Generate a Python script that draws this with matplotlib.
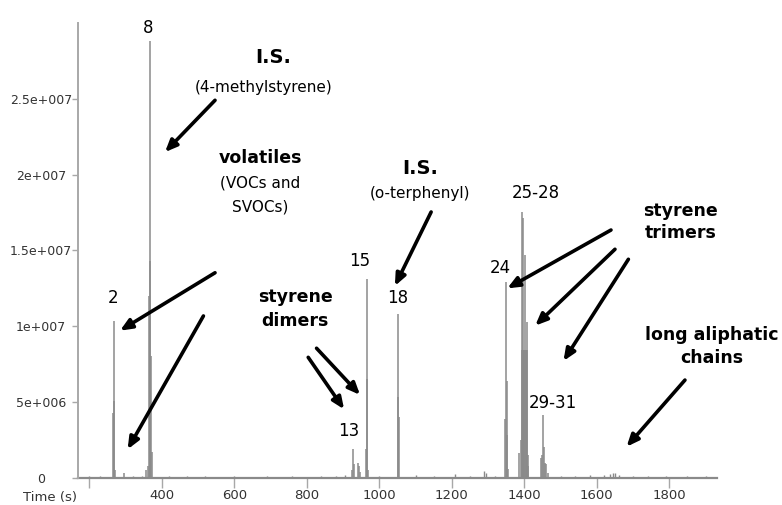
import matplotlib.pyplot as plt

plt.rcParams['font.family'] = ['DejaVu Sans']

# chromatogram, retention time (s) and intensity of each spike
run_start, run_end = 170, 1932
peak_times = [266.5, 267.6, 269.0, 270.2,
              296, 357, 362, 366.0, 367.7, 369.0, 370.5, 373.0,
              925, 928, 931, 942, 945, 948,
              963, 965, 966.5, 968,
              1051, 1052.6, 1054.2,
              1346, 1349.5, 1351.5, 1353, 1355,
              1386, 1390, 1392.8, 1394.2, 1395.6, 1397.2, 1398.6, 1400, 1401.9,
              1403.3, 1404.8, 1406.2, 1408.3, 1409.6, 1411,
              1446, 1448, 1450.7, 1453, 1456, 1460, 1464]
peak_heights = [4.3e6, 10.35e6, 5.05e6, 0.5e6,
                0.3e6, 0.5e6, 0.8e6, 12.0e6, 28.8e6, 14.3e6, 8.0e6, 1.7e6,
                0.5e6, 1.9e6, 0.9e6, 0.97e6, 0.8e6, 0.4e6,
                1.9e6, 13.1e6, 6.5e6, 0.5e6,
                5.35e6, 10.8e6, 4.0e6,
                3.9e6, 12.9e6, 6.4e6, 2.8e6, 0.6e6,
                1.6e6, 2.5e6, 17.55e6, 8.4e6, 8.4e6, 17.1e6, 8.4e6, 8.4e6, 14.7e6,
                8.4e6, 8.4e6, 8.4e6, 10.3e6, 1.5e6, 0.8e6,
                1.3e6, 1.5e6, 4.15e6, 2.0e6, 1.0e6, 0.9e6, 0.3e6]

# small blips along the baseline
blip_times = [200, 230, 320, 345, 420, 470, 520, 600, 690, 760, 840, 880, 905,
              1000, 1100, 1150, 1210, 1250, 1290, 1293, 1320, 1500, 1540, 1580,
              1620, 1635, 1645, 1650, 1660, 1700, 1740, 1790, 1850, 1900]
blip_heights = [0.1e6, 0.08e6, 0.1e6, 0.12e6, 0.08e6, 0.1e6, 0.08e6, 0.1e6,
                0.08e6, 0.1e6, 0.08e6, 0.1e6, 0.15e6, 0.1e6, 0.15e6, 0.1e6,
                0.25e6, 0.1e6, 0.45e6, 0.3e6, 0.1e6, 0.1e6, 0.12e6, 0.15e6,
                0.2e6, 0.25e6, 0.3e6, 0.28e6, 0.2e6, 0.12e6, 0.1e6, 0.08e6,
                0.08e6, 0.08e6]

y_ticks = [0, 5e6, 10e6, 15e6, 20e6, 25e6]
y_labels = ['0', '5e+006', '1e+007', '1.5e+007', '2e+007', '2.5e+007']
x_ticks = [200, 400, 600, 800, 1000, 1200, 1400, 1600, 1800]
x_labels = ['', '400', '600', '800', '1000', '1200', '1400', '1600', '1800']

# peak numbers: (text, time, intensity)
peak_labels = [('2', 266, 11.85e6), ('8', 362, 29.7e6), ('13', 916, 3.1e6),
               ('15', 947, 14.3e6), ('18', 1052, 11.85e6), ('24', 1333, 13.85e6),
               ('25-28', 1432, 18.8e6), ('29-31', 1479, 4.95e6)]

trace = '#8a8a8a'

fig = plt.figure(figsize=(7.82, 5.05), dpi=100)
ax = fig.add_axes([0.0997, 0.0541, 0.8184, 0.9004])

ax.plot([run_start, run_end], [0, 0], color=trace, lw=1.6, clip_on=False)
ax.vlines(blip_times, 0, blip_heights, color=trace, lw=1.0, clip_on=False)
ax.vlines(peak_times, 0, peak_heights, color=trace, lw=1.1, clip_on=False)

ax.set_xlim(169, 1934)
ax.set_ylim(0, 30e6)

for s in ['top', 'right', 'bottom']:
    ax.spines[s].set_visible(False)
ax.spines['left'].set_color('#a8a8a8')
ax.spines['left'].set_linewidth(1.4)

ax.set_yticks(y_ticks)
ax.set_yticklabels(y_labels)
for lab in ax.get_yticklabels():
    lab.set_horizontalalignment('center')
ax.set_xticks(x_ticks)
ax.set_xticklabels(x_labels)
ax.tick_params(axis='y', direction='out', length=4.5, width=1, color='#a8a8a8',
               pad=22, labelsize=9, labelcolor='#333333')
ax.tick_params(axis='x', direction='out', length=7, width=1, color='#a8a8a8',
               pad=1.5, labelsize=9.5, labelcolor='#333333')
ax.text(92, -1.3e6, 'Time (s)', ha='center', va='center', fontsize=9.5,
        color='#333333')

for txt, t, v in peak_labels:
    ax.text(t, v, txt, ha='center', va='center', fontsize=12)

bold = dict(ha='center', va='center', fontsize=12.5, fontweight='bold')
plain = dict(ha='center', va='center', fontsize=11)

ax.text(707, 27.75e6, 'I.S.', ha='center', va='center', fontsize=14, fontweight='bold')
ax.text(682, 25.76e6, '(4-methylstyrene)', **plain)
ax.text(671, 21.08e6, 'volatiles', **bold)
ax.text(671, 19.43e6, '(VOCs and', **plain)
ax.text(671, 17.84e6, 'SVOCs)', **plain)
ax.text(1112, 20.42e6, 'I.S.', ha='center', va='center', fontsize=14, fontweight='bold')
ax.text(1112, 18.77e6, '(o-terphenyl)', **plain)
ax.text(768, 11.92e6, 'styrene', **bold)
ax.text(768, 10.35e6, 'dimers', **bold)
ax.text(1832, 17.58e6, 'styrene', **bold)
ax.text(1832, 16.13e6, 'trimers', **bold)
ax.text(1917, 9.41e6, 'long aliphatic', **bold)
ax.text(1917, 7.9e6, 'chains', **bold)

# arrows: (tail time, tail intensity, head time, head intensity)
arrows = [(547, 24.9e6, 409, 21.48e6),
          (547, 13.52e6, 285, 9.70e6),
          (515, 10.67e6, 306, 1.87e6),
          (1143, 17.53e6, 1043, 12.65e6),
          (827, 8.54e6, 947, 5.46e6),
          (804, 7.94e6, 903, 4.51e6),
          (1639, 16.34e6, 1353, 12.49e6),
          (1650, 15.07e6, 1430, 10.03e6),
          (1687, 14.41e6, 1508, 7.70e6),
          (1843, 6.44e6, 1682, 2.04e6)]
for x0, y0, x1, y1 in arrows:
    ax.annotate('', xy=(x1, y1), xytext=(x0, y0),
                arrowprops=dict(arrowstyle='-|>,head_length=0.7,head_width=0.3',
                                lw=2.6, color='black', shrinkA=0, shrinkB=0))

fig.savefig('out.png', dpi=100)
